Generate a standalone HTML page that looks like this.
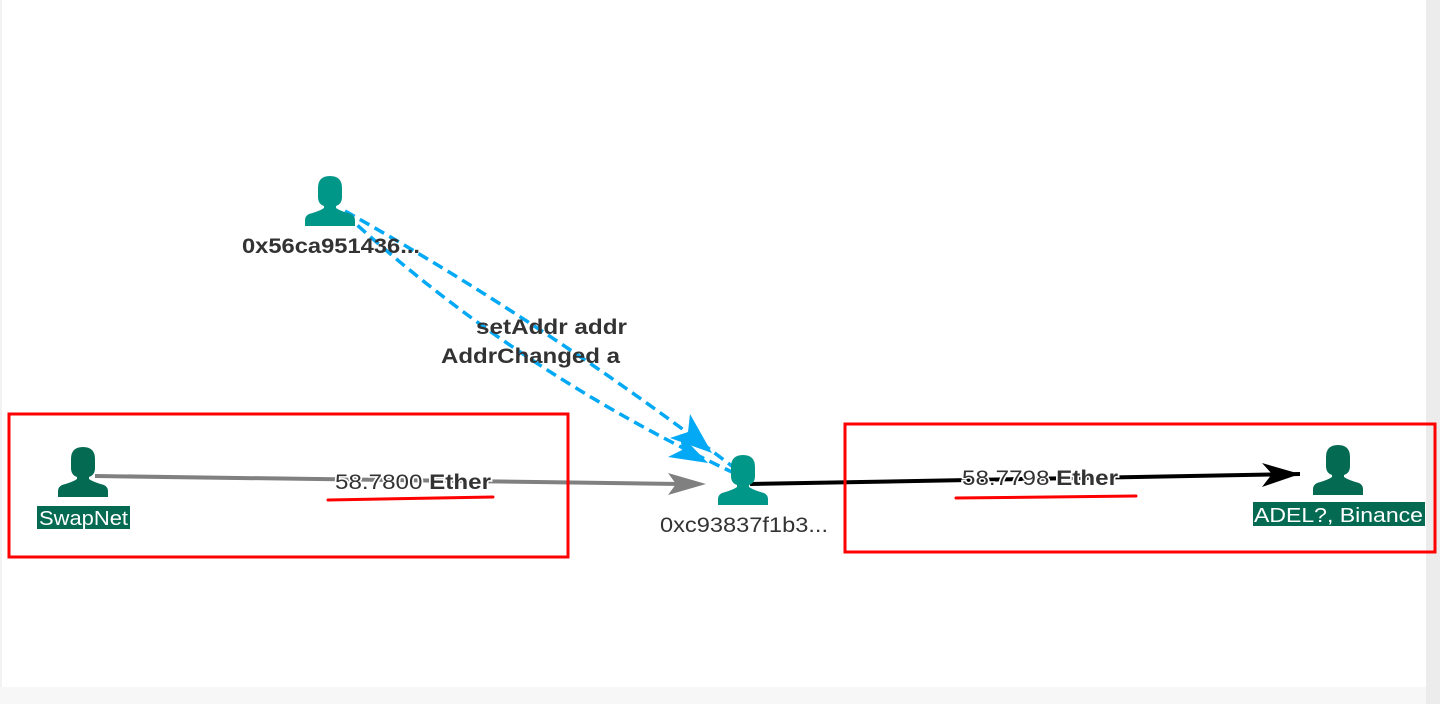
<!DOCTYPE html>
<html><head><style>
html,body{margin:0;padding:0;background:#fff;}
svg{display:block;font-family:"Liberation Sans",sans-serif;}
</style></head><body>
<svg width="1440" height="704" viewBox="0 0 1440 704">
<defs>
<symbol id="p" viewBox="0 0 50 50">
<path d="M13 12 Q13 0 25 0 Q37 0 37 12 L37 21 Q37 28 31 30 L31 32 Q35 35 46 38 Q50 40 50 44 L50 50 L0 50 L0 44 Q0 40 4 38 Q15 35 19 32 L19 30 Q13 28 13 21 Z"/>
</symbol>
</defs>
<rect x="0" y="0" width="1440" height="704" fill="#fff"/>
<rect x="1426" y="0" width="14" height="704" fill="#ececec"/>
<rect x="0" y="687" width="1426" height="17" fill="#f7f7f7"/>
<line x1="1" y1="0" x2="1" y2="687" stroke="#e6e6e6"/>

<!-- edges -->
<line x1="95" y1="476" x2="680" y2="484" stroke="#808080" stroke-width="4"/>
<polygon points="668,473 706,484 668,495 676,484" fill="#808080"/>
<line x1="750" y1="484" x2="1300" y2="474" stroke="#000" stroke-width="4"/>
<polygon points="1262,463 1300,474 1262,487 1272,474" fill="#000"/>
<path d="M345 211 Q548 325 737 470" fill="none" stroke="#03a9f4" stroke-width="3.5" stroke-dasharray="11,6"/>
<path d="M345 214 Q515 370 732 472" fill="none" stroke="#03a9f4" stroke-width="3.5" stroke-dasharray="11,6"/>
<polygon points="670,438 712,453 690,414 688,432" fill="#03a9f4"/>
<polygon points="668,457 708,463 680,434 682,450" fill="#03a9f4"/>

<!-- nodes -->
<use href="#p" x="305" y="176" width="50" height="50" fill="#009688"/>
<use href="#p" x="718" y="455" width="50" height="50" fill="#009688"/>
<use href="#p" x="58" y="447" width="50" height="50" fill="#046a52"/>
<use href="#p" x="1313" y="445" width="50" height="50" fill="#046a52"/>

<text x="242" y="253" font-size="21" font-weight="bold" fill="#333" textLength="178" lengthAdjust="spacingAndGlyphs">0x56ca951436...</text>
<text x="660" y="532" font-size="21" fill="#333" textLength="168" lengthAdjust="spacingAndGlyphs">0xc93837f1b3...</text>
<rect x="37" y="506" width="93" height="23" fill="#046a52"/>
<text x="39" y="525" font-size="20" fill="#fff" textLength="89" lengthAdjust="spacingAndGlyphs">SwapNet</text>
<rect x="1253" y="502" width="172" height="24" fill="#046a52"/>
<text x="1254" y="522" font-size="20" fill="#fff" textLength="169" lengthAdjust="spacingAndGlyphs">ADEL?, Binance</text>

<text x="476" y="334" font-size="21" font-weight="bold" fill="#333" textLength="151" lengthAdjust="spacingAndGlyphs">setAddr addr</text>
<text x="441" y="363" font-size="21" font-weight="bold" fill="#333" textLength="179" lengthAdjust="spacingAndGlyphs">AddrChanged a</text>

<g font-size="21" stroke="#fff" stroke-width="3" paint-order="stroke" fill="#333">
<text x="335" y="489" textLength="156" lengthAdjust="spacingAndGlyphs">58.7800 <tspan font-weight="bold">Ether</tspan></text>
<text x="962" y="485" textLength="156" lengthAdjust="spacingAndGlyphs">58.7798 <tspan font-weight="bold">Ether</tspan></text>
</g>

<!-- annotations -->
<rect x="9" y="414" width="559" height="143" fill="none" stroke="#f00" stroke-width="3"/>
<rect x="845" y="424" width="590" height="128" fill="none" stroke="#f00" stroke-width="3"/>
<path d="M328 500 L493 497" stroke="#f00" stroke-width="3" stroke-linecap="round"/>
<path d="M956 498 L1136 496" stroke="#f00" stroke-width="3" stroke-linecap="round"/>
</svg>
</body></html>
